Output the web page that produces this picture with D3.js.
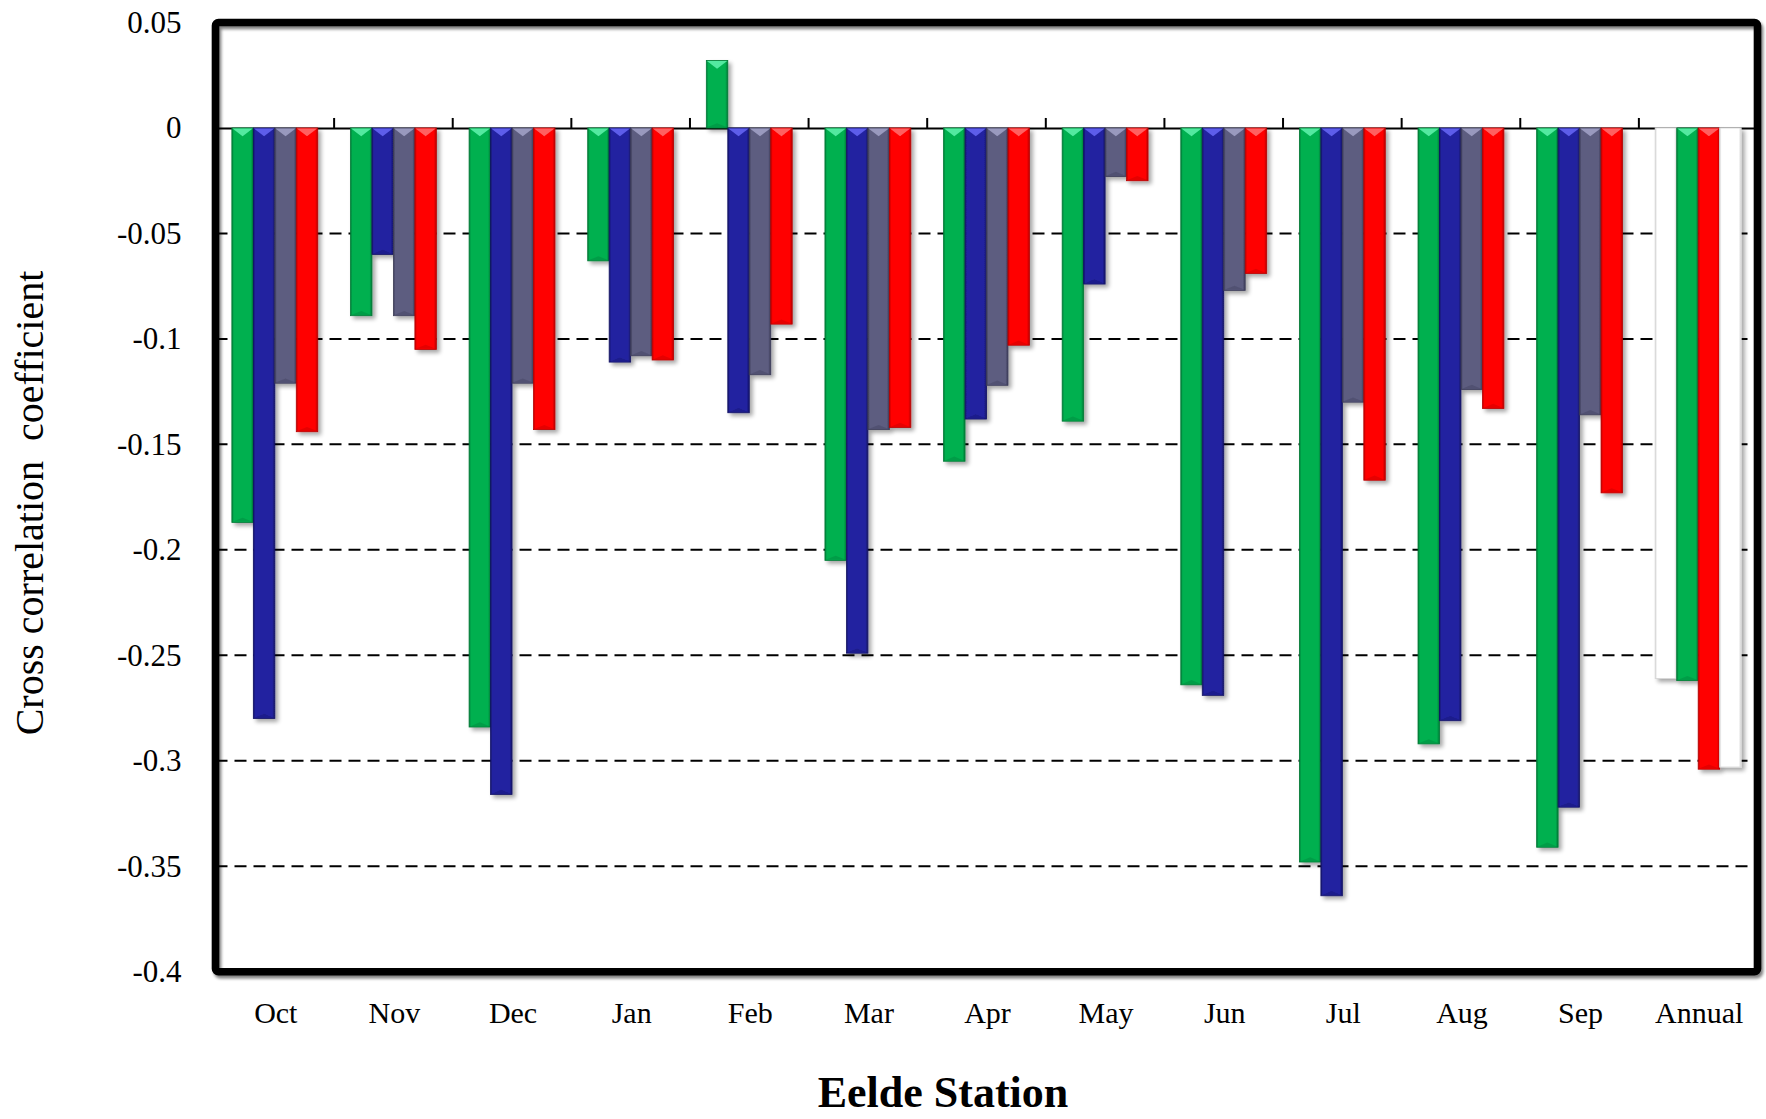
<!DOCTYPE html>
<html>
<head>
<meta charset="utf-8">
<script src="https://cdn.jsdelivr.net/npm/d3@7"></script>
<style>
  html, body { margin: 0; padding: 0; background: #ffffff; }
  svg { display: block; }
  text { font-family: "Liberation Serif", "DejaVu Serif", serif; fill: #000; }
</style>
</head>
<body>
<svg id="chart" width="1766" height="1119"></svg>
<script>
// ---------------- data ----------------
const months = ["Oct", "Nov", "Dec", "Jan", "Feb", "Mar", "Apr", "May", "Jun", "Jul", "Aug", "Sep"];
const annualLabel = "Annual";
const seriesGreen = [-0.187, -0.089, -0.284, -0.063, 0.032, -0.205, -0.158, -0.139, -0.264, -0.348, -0.292, -0.341];
const seriesBlue  = [-0.280, -0.060, -0.316, -0.111, -0.135, -0.249, -0.138, -0.074, -0.269, -0.364, -0.281, -0.322];
const seriesGray  = [-0.121, -0.089, -0.121, -0.108, -0.117, -0.143, -0.122, -0.023, -0.077, -0.130, -0.124, -0.136];
const seriesRed   = [-0.144, -0.105, -0.143, -0.110, -0.093, -0.142, -0.103, -0.025, -0.069, -0.167, -0.133, -0.173];
// Annual group: four bars (blank, green, red, blank) in slot order
const annualValues = [-0.261, -0.262, -0.304, -0.303];
const yTickValues = [0.05, 0, -0.05, -0.1, -0.15, -0.2, -0.25, -0.3, -0.35, -0.4];
const gridValues = [-0.05, -0.1, -0.15, -0.2, -0.25, -0.3, -0.35];
const yTitle = "Cross correlation\u00a0\u00a0coefficient";
const xTitle = "Eelde Station";

// ---------------- styles ----------------
const palette = {
  green: { base: "#00b050", light: "#5cf0a8", dark: "#007a36" },
  blue:  { base: "#2323a0", light: "#6464f2", dark: "#141466" },
  gray:  { base: "#5d5d80", light: "#a0a0c4", dark: "#3c3c58" },
  red:   { base: "#ff0000", light: "#ff6a6a", dark: "#b80000" },
  white: { base: "#ffffff", light: "#ffffff", dark: "#d8d8d8" }
};
const monthSlotStyles = ["green", "blue", "gray", "red"];
const annualSlotStyles = ["white", "green", "red", "white"];

// ---------------- build rows ----------------
const categories = months.concat([annualLabel]);
const rows = [];
months.forEach((m, i) => {
  [seriesGreen, seriesBlue, seriesGray, seriesRed].forEach((s, k) => {
    rows.push({ cat: m, slot: k, value: s[i], style: monthSlotStyles[k] });
  });
});
annualValues.forEach((v, k) => rows.push({ cat: annualLabel, slot: k, value: v, style: annualSlotStyles[k] }));

// ---------------- layout ----------------
const plotL = 215.5, plotR = 1757.5, plotT = 22.5, plotB = 971.7;
const svg = d3.select("#chart");

const x = d3.scaleBand().domain(categories).range([plotL, plotR]).padding(0);
const step = x.bandwidth();
const inner = d3.scaleBand().domain([0, 1, 2, 3]).range([step * 0.138, step * 0.862]).padding(0);
const y = d3.scaleLinear().domain([-0.4, 0.05]).range([plotB, plotT]);

// ---------------- defs ----------------
const defs = svg.append("defs");
const shadow = defs.append("filter").attr("id", "shadow")
  .attr("x", "-30%").attr("y", "-10%").attr("width", "180%").attr("height", "130%");
shadow.append("feGaussianBlur").attr("in", "SourceAlpha").attr("stdDeviation", 2.2).attr("result", "blur");
shadow.append("feOffset").attr("in", "blur").attr("dx", 3).attr("dy", 3).attr("result", "off");
shadow.append("feComponentTransfer").attr("in", "off").attr("result", "soft")
  .append("feFuncA").attr("type", "linear").attr("slope", 0.35);
const merge = shadow.append("feMerge");
merge.append("feMergeNode").attr("in", "soft");
merge.append("feMergeNode").attr("in", "SourceGraphic");

const frameShadow = defs.append("filter").attr("id", "frameShadow")
  .attr("x", "-5%").attr("y", "-5%").attr("width", "110%").attr("height", "110%");
frameShadow.append("feGaussianBlur").attr("in", "SourceAlpha").attr("stdDeviation", 1.5).attr("result", "blur");
frameShadow.append("feOffset").attr("in", "blur").attr("dx", 1.5).attr("dy", 2.5).attr("result", "off");
frameShadow.append("feComponentTransfer").attr("in", "off").attr("result", "soft")
  .append("feFuncA").attr("type", "linear").attr("slope", 0.5);
const fm = frameShadow.append("feMerge");
fm.append("feMergeNode").attr("in", "soft");
fm.append("feMergeNode").attr("in", "SourceGraphic");

Object.entries(palette).forEach(([name, c]) => {
  const g = defs.append("linearGradient").attr("id", "grad-" + name)
    .attr("x1", "0%").attr("x2", "100%").attr("y1", "0%").attr("y2", "0%");
  g.append("stop").attr("offset", "0%").attr("stop-color", c.dark);
  g.append("stop").attr("offset", "9%").attr("stop-color", c.base);
  g.append("stop").attr("offset", "88%").attr("stop-color", c.base);
  g.append("stop").attr("offset", "100%").attr("stop-color", c.dark);
});

// ---------------- gridlines ----------------
svg.append("g").selectAll("line").data(gridValues).join("line")
  .attr("x1", plotL).attr("x2", plotR)
  .attr("y1", d => y(d)).attr("y2", d => y(d))
  .attr("stroke", "#000").attr("stroke-width", 2)
  .attr("stroke-dasharray", "12,7");

// ---------------- zero axis with category ticks ----------------
const zeroAxis = svg.append("g").attr("transform", `translate(0,${y(0)})`)
  .call(d3.axisTop(x).tickSize(0).tickFormat(""));
zeroAxis.select(".domain").attr("stroke", "#000").attr("stroke-width", 2);
svg.append("g").selectAll("line")
  .data(categories.slice(1))
  .join("line")
  .attr("x1", d => x(d)).attr("x2", d => x(d))
  .attr("y1", y(0)).attr("y2", y(0) - 10)
  .attr("stroke", "#000").attr("stroke-width", 2);

// ---------------- bars ----------------
const bw = inner.bandwidth();
const bars = svg.append("g").selectAll("g.bar").data(rows).join("g").attr("class", "bar")
  .attr("filter", "url(#shadow)");

bars.each(function (d) {
  const g = d3.select(this);
  const c = palette[d.style];
  const x0 = x(d.cat) + inner(d.slot);
  const y0 = Math.min(y(0), y(d.value));
  const y1 = Math.max(y(0), y(d.value));
  const h = y1 - y0;
  g.append("rect")
    .attr("x", x0).attr("y", y0).attr("width", bw).attr("height", h)
    .attr("fill", `url(#grad-${d.style})`)
    .attr("stroke", c.dark).attr("stroke-width", d.style === "white" ? 1 : 0.8);
  if (d.style !== "white") {
    const th = Math.min(bw * 0.38, h / 2);
    g.append("path")
      .attr("d", `M${x0 + 0.6},${y0 + 0.6} L${x0 + bw - 0.6},${y0 + 0.6} L${x0 + bw / 2},${y0 + th} Z`)
      .attr("fill", c.light).attr("opacity", 0.9);
    const bh = Math.min(bw * 0.22, h / 3);
    g.append("path")
      .attr("d", `M${x0 + 0.6},${y1 - 0.6} L${x0 + bw - 0.6},${y1 - 0.6} L${x0 + bw / 2},${y1 - bh} Z`)
      .attr("fill", c.dark).attr("opacity", 0.35);
  }
});

// ---------------- frame ----------------
svg.append("rect")
  .attr("x", plotL).attr("y", plotT)
  .attr("width", plotR - plotL).attr("height", plotB - plotT)
  .attr("rx", 3).attr("ry", 3)
  .attr("fill", "none").attr("stroke", "#000").attr("stroke-width", 7.6)
  .attr("filter", "url(#frameShadow)");

// ---------------- y axis labels ----------------
const yAxis = svg.append("g").attr("transform", `translate(${plotL},0)`)
  .call(d3.axisLeft(y).tickValues(yTickValues).tickSize(0).tickPadding(34)
    .tickFormat(d => d === 0 ? "0" : String(+d.toFixed(2))));
yAxis.select(".domain").remove();
yAxis.selectAll("text")
  .style("font-family", '"Liberation Serif", serif')
  .style("font-size", "31px")
  .attr("fill", "#000");

// ---------------- x category labels ----------------
svg.append("g").selectAll("text").data(categories).join("text")
  .attr("x", d => x(d) + step / 2 + 1)
  .attr("y", 1023)
  .attr("text-anchor", "middle")
  .style("font-size", "30px")
  .text(d => d);

// ---------------- titles ----------------
svg.append("text")
  .attr("x", 943).attr("y", 1107)
  .attr("text-anchor", "middle")
  .style("font-size", "44px").style("font-weight", "bold")
  .text(xTitle);

svg.append("text")
  .attr("transform", "translate(43,503) rotate(-90)")
  .attr("text-anchor", "middle")
  .style("font-size", "40px")
  .text(yTitle);
</script>
</body>
</html>
